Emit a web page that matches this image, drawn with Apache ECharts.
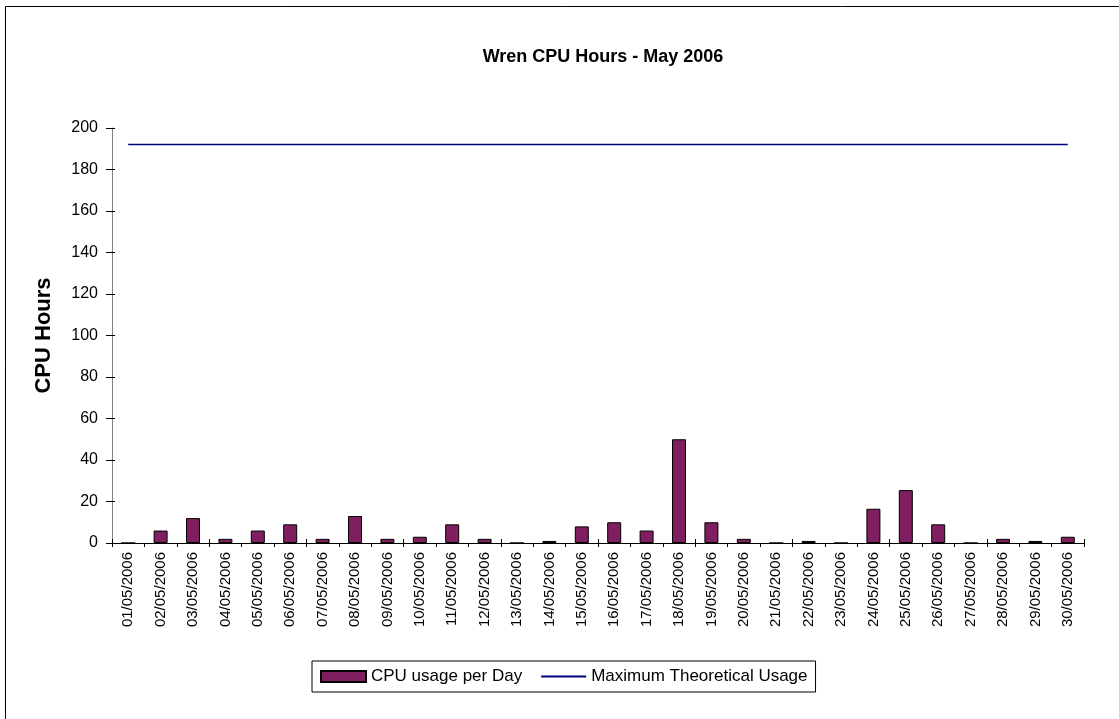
<!DOCTYPE html>
<html>
<head>
<meta charset="utf-8">
<script src="https://cdn.jsdelivr.net/npm/echarts@6/dist/echarts.min.js"></script>
<style>
html,body{margin:0;padding:0;background:#fff;}
#main{width:1119px;height:719px;}
</style>
</head>
<body>
<div id="main"></div>
<script>
var days = ['01/05/2006','02/05/2006','03/05/2006','04/05/2006','05/05/2006','06/05/2006','07/05/2006','08/05/2006','09/05/2006','10/05/2006',
    '11/05/2006','12/05/2006','13/05/2006','14/05/2006','15/05/2006','16/05/2006','17/05/2006','18/05/2006','19/05/2006','20/05/2006',
    '21/05/2006','22/05/2006','23/05/2006','24/05/2006','25/05/2006','26/05/2006','27/05/2006','28/05/2006','29/05/2006','30/05/2006']
var cpuUsage = [0,6,12,2,6,9,2,13,2,3,
    9,2,0,1,8,10,6,50,10,2,
    0,1,0,16.5,25.5,9,0,2,1,3]
var maxUsage = [192,192,192,192,192,192,192,192,192,192,
    192,192,192,192,192,192,192,192,192,192,
    192,192,192,192,192,192,192,192,192,192]

var font = 'Liberation Sans'
var myChart = echarts.init(document.getElementById('main'))
var option = {
    backgroundColor: '#fff',
    animation: false,
    textStyle: { fontFamily: font },
    graphic: [{
        type: 'rect',
        x: 5.5, y: 6.5,
        shape: { width: 1300, height: 900 },
        style: { fill: 'none', stroke: '#000', lineWidth: 1 },
        silent: true
    }],
    title: {
        text: 'Wren CPU Hours - May 2006',
        left: 598, top: 43,
        textAlign: 'center',
        textStyle: { fontFamily: font, fontSize: 18, fontWeight: 'bold', color: '#000' }
    },
    legend: {
        left: 312, top: 661,
        width: 501,
        padding: [7, 8, 7, 8],
        itemGap: 18,
        itemWidth: 45, itemHeight: 11,
        borderColor: '#000', borderWidth: 1, borderRadius: 0,
        textStyle: { fontFamily: font, fontSize: 17, color: '#000' },
        data: [
            { name: 'CPU usage per Day', icon: 'rect' },
            { name: 'Maximum Theoretical Usage', itemStyle: { opacity: 0 } }
        ]
    },
    grid: { left: 112, right: 35, top: 128, bottom: 176, containLabel: false },
    xAxis: [{
        type: 'category',
        data: days,
        axisLine: { lineStyle: { color: '#000', width: 1 } },
        axisTick: { show: true, length: 4, lineStyle: { color: '#000' } },
        axisLabel: { rotate: 90, fontSize: 15, color: '#000', margin: 9, interval: 0, fontFamily: font }
    }, {
        type: 'category',
        data: days,
        position: 'bottom',
        axisLine: { show: false },
        axisTick: { show: true, inside: true, length: 4, lineStyle: { color: '#000' } },
        axisLabel: { show: false }
    }],
    yAxis: [{
        type: 'value',
        min: 0, max: 200, interval: 20,
        name: 'CPU Hours',
        nameLocation: 'middle',
        nameGap: 57,
        nameTextStyle: { fontFamily: font, fontSize: 22, fontWeight: 'bold', color: '#000' },
        axisLine: { show: true, lineStyle: { color: '#808080', width: 1 } },
        axisTick: { show: true, length: 6, lineStyle: { color: '#000' } },
        axisLabel: { fontSize: 16, color: '#000', margin: 14, fontFamily: font },
        splitLine: { show: false }
    }, {
        type: 'value',
        min: 0, max: 200, interval: 20,
        position: 'left',
        axisLine: { show: false },
        axisTick: { show: true, inside: true, length: 3, lineStyle: { color: '#000' } },
        axisLabel: { show: false },
        splitLine: { show: false }
    }],
    series: [{
        name: 'CPU usage per Day',
        type: 'bar',
        data: cpuUsage,
        barWidth: 14,
        itemStyle: { color: '#801F5F', borderColor: '#000', borderWidth: 1 }
    }, {
        name: 'Maximum Theoretical Usage',
        type: 'line',
        data: maxUsage,
        symbol: 'none',
        lineStyle: { color: '#000080', width: 1.5 },
        itemStyle: { color: '#000080' }
    }]
}
myChart.setOption(option)
</script>
</body>
</html>
